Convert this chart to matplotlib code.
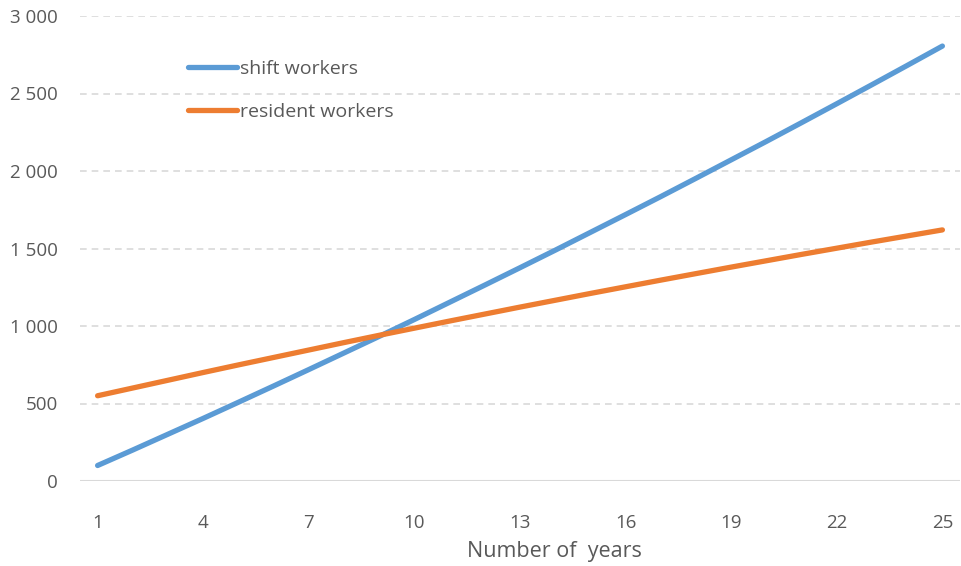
import matplotlib
matplotlib.use("Agg")
import matplotlib.pyplot as plt
from matplotlib.ticker import FuncFormatter

years = list(range(1, 26))
shift_workers = [100, 200, 302, 404, 508, 613, 719, 826, 933, 1042, 1153, 1264, 1376,
                 1489, 1604, 1719, 1835, 1953, 2072, 2191, 2312, 2434, 2557, 2681, 2806]
resident_workers = [550, 600, 650, 700, 749, 797, 845, 893, 940, 986, 1032, 1077, 1122,
                    1166, 1210, 1253, 1296, 1338, 1380, 1421, 1462, 1502, 1542, 1581, 1620]
series_names = ["shift workers", "resident workers"]
x_ticks = [1, 4, 7, 10, 13, 16, 19, 22, 25]
y_ticks = [0, 500, 1000, 1500, 2000, 2500, 3000]
x_label = "Number of  years"

plt.rcParams['font.family'] = ['Open Sans', 'DejaVu Sans']
txt = '#595959'
grid = '#d9d9d9'

fig = plt.figure(figsize=(9.61, 5.66), dpi=100)
ax = fig.add_axes([80/961, 1-481/566, 880/961, 465/566])

ax.plot(years, shift_workers, color='#5B9BD5', lw=3.8, solid_capstyle='round', label=series_names[0], zorder=3)
ax.plot(years, resident_workers, color='#ED7D31', lw=3.8, solid_capstyle='round', label=series_names[1], zorder=3)

ax.set_xlim(0.5, 25.5)
ax.set_ylim(0, 3000)
ax.set_xticks(x_ticks)
ax.set_yticks(y_ticks)
ax.yaxis.set_major_formatter(FuncFormatter(lambda v, p: f"{int(v):,}".replace(",", " ")))
for v in y_ticks[1:]:
    ax.axhline(v, color=grid, lw=1.2, ls=(0, (4, 3)), zorder=1)
ax.axhline(0, color=grid, lw=1.5, zorder=1)
for s in ax.spines.values():
    s.set_visible(False)
ax.tick_params(length=0, labelsize=13.5, colors=txt)
ax.tick_params(axis='y', pad=16)
ax.tick_params(axis='x', pad=24)
ax.set_xlabel(x_label, fontsize=15.5, color=txt, va='center')
ax.xaxis.set_label_coords((554 - 80) / 880, -(552 - 481) / 465)

leg = ax.legend(loc='upper left', bbox_to_anchor=(188/961, 1-60/566), bbox_transform=fig.transFigure,
                frameon=False, fontsize=14, handlelength=2.5, handletextpad=0.2,
                labelspacing=1.3, borderpad=0, borderaxespad=0)
for t in leg.get_texts():
    t.set_color(txt)

fig.savefig("out.png", dpi=100)
